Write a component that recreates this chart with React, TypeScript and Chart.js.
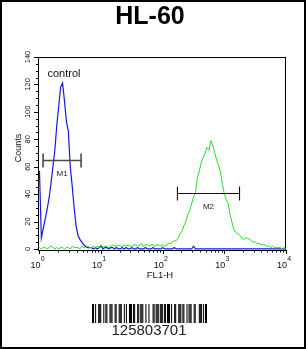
import { useEffect, useRef } from 'react';
import { Chart, registerables } from 'chart.js';

Chart.register(...registerables);

// ---- data ----
const chartTitle = 'HL-60';
const xAxisTitle = 'FL1-H';
const yAxisTitle = 'Counts';
const controlLabel = 'control';
const barcodeText = '125803701';

// x ticks: decades 10^0 .. 10^4 (256 channels per decade)
const xTickExponents = [0, 1, 2, 3, 4];
const channelsPerDecade = 256;
const yTickValues = [0, 20, 40, 60, 80, 100, 120, 140];
const yMinorStep = 5;

// counts per channel, sampled every 8 channels (0..1024)
const channelStep = 8;
const controlCounts = [
  57, 8, 15, 22, 29, 37, 48, 60, 72, 90,
  104, 118, 121, 108, 93, 86, 60, 46, 30, 17,
  10, 7, 5, 3, 2, 1, 1,
  1, 0, 1, 0, 1, 2, 0, 1, 1, 0,
  1, 1, 0, 1, 0, 0, 1, 0, 1, 0,
  0, 1, 0, 0, 1, 0, 0, 0, 1, 0,
  0, 0, 1, 0, 0, 0, 0, 1, 0, 0,
  0, 0, 0, 1, 0, 0, 0, 0, 0, 0,
  0, 0, 0, 2, 0, 0, 0, 0, 0, 0,
  0, 0, 0, 0, 0, 0, 0, 0, 0, 0,
  0, 0, 0, 0, 0, 0, 0, 0, 0, 0,
  0, 0, 0, 0, 0, 0, 0, 0, 0, 0,
  0, 0, 0, 0, 0, 0, 0, 0, 0, 0,
  0, 0,
];
const sampleCounts = [
  1, 0, 1, 1, 0, 1, 2, 1, 0, 1,
  0, 1, 1, 0, 1, 1, 0, 2, 1, 1,
  1, 0, 2, 1, 1, 2, 1, 1, 2, 1,
  2, 1, 3, 1, 2, 2, 1, 2, 3, 2,
  2, 3, 2, 2, 3, 2, 3, 2, 2, 3,
  3, 2, 3, 4, 2, 3, 3, 2, 3, 3,
  2, 3, 3, 2,
  3, 2, 3, 4, 4, 5, 6, 6, 8, 11,
  13, 17, 20, 25, 28, 33, 38, 41, 52, 57,
  63, 67, 70, 74, 72, 79, 76, 70, 65, 61,
  56, 47, 40, 36, 33, 25, 19, 14, 12, 11,
  10, 8, 7, 8, 8, 7, 6, 5, 5, 4,
  4, 3, 3, 3, 2, 2, 1, 2, 1, 1,
  1, 1, 0, 1, 0,
];

// marker gates (channel ranges) and their drawn count level
const gateNames = ['M1', 'M2'];
const gateStart = [15, 573];
const gateEnd = [173, 831];
const gateLevel = [65, 41];

// barcode modules
const barcodePattern =
  '11010011100' + '10110011100' + '11001110010' + '10011101100' + '11011100100' +
  '10001101110' + '11101101110' + '10011001110' + '11001011100' + '1100011101011';

const FONT = '"Liberation Sans", Arial, sans-serif';

const toPoints = (counts: number[]) => counts.map((c, i) => ({ x: i * channelStep, y: c }));

const decor = {
  id: 'decor',
  beforeDraw(chart: any) {
    const ctx = chart.ctx as CanvasRenderingContext2D;
    ctx.save();
    ctx.fillStyle = '#ffffff';
    ctx.fillRect(0, 0, chart.width, chart.height);
    ctx.restore();
  },
  beforeDatasetsDraw(chart: any) {
    const ctx = chart.ctx as CanvasRenderingContext2D;
    const a = chart.chartArea;
    ctx.save();
    ctx.strokeStyle = '#000';
    ctx.lineWidth = 1;
    ctx.strokeRect(a.left + 0.5, a.top + 0.5, a.right - a.left - 1, a.bottom - a.top - 1);
    ctx.restore();
  },
  afterDatasetsDraw(chart: any) {
    const ctx = chart.ctx as CanvasRenderingContext2D;
    const a = chart.chartArea;
    const xs = chart.scales.x;
    const ys = chart.scales.y;
    ctx.save();

    // outer border
    ctx.strokeStyle = '#000';
    ctx.lineWidth = 2;
    ctx.strokeRect(1, 1, chart.width - 2, chart.height - 2);

    // title
    ctx.fillStyle = '#000';
    ctx.font = `bold 25px ${FONT}`;
    ctx.textAlign = 'center';
    ctx.textBaseline = 'alphabetic';
    ctx.fillText(chartTitle, 150, 24);

    // y ticks
    ctx.strokeStyle = '#000';
    ctx.lineWidth = 1;
    const yMax = yTickValues[yTickValues.length - 1];
    for (let v = 0; v <= yMax; v += yMinorStep) {
      const py = Math.round(ys.getPixelForValue(v)) + 0.5;
      const major = yTickValues.includes(v);
      ctx.beginPath();
      ctx.moveTo(a.left, py);
      ctx.lineTo(a.left - (major ? 4 : 2), py);
      ctx.stroke();
    }
    ctx.fillStyle = '#111';
    ctx.font = `7.5px ${FONT}`;
    ctx.textAlign = 'center';
    ctx.textBaseline = 'middle';
    yTickValues.forEach((v) => {
      const py = ys.getPixelForValue(v);
      ctx.save();
      ctx.translate(28, py);
      ctx.rotate(-Math.PI / 2);
      ctx.fillText(String(v), 0, 0);
      ctx.restore();
    });
    ctx.font = `9px ${FONT}`;
    ctx.save();
    ctx.translate(18.5, 148);
    ctx.rotate(-Math.PI / 2);
    ctx.fillText(yAxisTitle, 0, 0);
    ctx.restore();

    // x ticks
    for (let d = 0; d < xTickExponents.length; d++) {
      const e = xTickExponents[d];
      const px = Math.round(xs.getPixelForValue(e * channelsPerDecade)) + 0.5;
      ctx.beginPath();
      ctx.moveTo(px, a.bottom - 1);
      ctx.lineTo(px, a.bottom + 3);
      ctx.stroke();
      if (d < xTickExponents.length - 1) {
        for (let k = 2; k <= 9; k++) {
          const mx = Math.round(xs.getPixelForValue((e + Math.log10(k)) * channelsPerDecade)) + 0.5;
          ctx.beginPath();
          ctx.moveTo(mx, a.bottom - 1);
          ctx.lineTo(mx, a.bottom + 1.5);
          ctx.stroke();
        }
      }
    }
    ctx.fillStyle = '#111';
    ctx.textBaseline = 'alphabetic';
    xTickExponents.forEach((e) => {
      const px = xs.getPixelForValue(e * channelsPerDecade);
      ctx.font = `9px ${FONT}`;
      ctx.textAlign = 'right';
      ctx.fillText('10', px + 1, 268);
      ctx.font = `7px ${FONT}`;
      ctx.textAlign = 'left';
      ctx.fillText(String(e), px + 1.2, 261);
    });
    ctx.font = `9.5px ${FONT}`;
    ctx.textAlign = 'center';
    ctx.fillText(xAxisTitle, 160, 277.5);

    // control label
    ctx.font = `11px ${FONT}`;
    ctx.textAlign = 'left';
    ctx.fillStyle = '#111';
    ctx.fillText(controlLabel, 47.5, 77);

    // gates
    gateNames.forEach((name, i) => {
      const x1 = xs.getPixelForValue(gateStart[i]);
      const x2 = xs.getPixelForValue(gateEnd[i]);
      const gy = Math.round(ys.getPixelForValue(gateLevel[i])) + 0.5;
      ctx.strokeStyle = i === 0 ? '#4a4a4a' : '#111';
      ctx.lineWidth = i === 0 ? 1.6 : 1.1;
      ctx.beginPath();
      ctx.moveTo(x1, gy);
      ctx.lineTo(x2, gy);
      ctx.moveTo(x1, gy - 7);
      ctx.lineTo(x1, gy + 7);
      ctx.moveTo(x2, gy - 7);
      ctx.lineTo(x2, gy + 7);
      ctx.stroke();
      ctx.fillStyle = '#222';
      ctx.font = `8px ${FONT}`;
      ctx.textAlign = 'center';
      ctx.fillText(name, (x1 + x2) / 2, gy + 15.5);
    });

    // barcode
    const bx = 92;
    const bw = 115;
    const mw = bw / barcodePattern.length;
    ctx.fillStyle = '#000';
    for (let i = 0; i < barcodePattern.length; i++) {
      if (barcodePattern[i] === '1') ctx.fillRect(bx + i * mw, 304, mw, 19);
    }
    ctx.fillStyle = '#222';
    ctx.font = `15px ${FONT}`;
    ctx.textAlign = 'center';
    ctx.fillText(barcodeText, 149, 335);

    ctx.restore();
  },
};

export default function App() {
  const ref = useRef<HTMLCanvasElement>(null);
  useEffect(() => {
    const canvas = ref.current;
    if (!canvas) return;
    const chart = new Chart(canvas, {
      type: 'line',
      data: {
        datasets: [
          {
            label: 'sample',
            data: toPoints(sampleCounts),
            borderColor: '#1fe01f',
            borderWidth: 1,
            pointRadius: 0,
            tension: 0,
          },
          {
            label: controlLabel,
            data: toPoints(controlCounts),
            borderColor: '#1717e8',
            borderWidth: 1.2,
            pointRadius: 0,
            tension: 0,
          },
        ],
      },
      options: {
        responsive: false,
        animation: false,
        devicePixelRatio: 1,
        layout: { padding: { left: 38, top: 57, right: 20, bottom: 98 } },
        scales: {
          x: { type: 'linear', min: -6, max: 1024, display: false },
          y: { type: 'linear', min: -1.5, max: 140, display: false },
        },
        plugins: { legend: { display: false }, tooltip: { enabled: false }, title: { display: false } },
      },
      plugins: [decor],
    } as any);
    return () => chart.destroy();
  }, []);
  return (
    <div style={{ position: 'absolute', left: 0, top: 0, width: 306, height: 349, background: '#fff' }}>
      <canvas ref={ref} width={306} height={349} style={{ display: 'block' }} />
    </div>
  );
}
